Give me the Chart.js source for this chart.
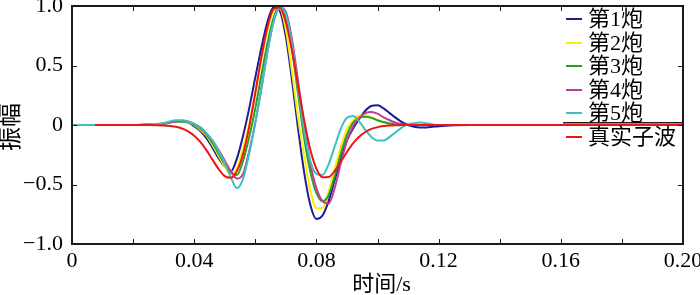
<!DOCTYPE html>
<html>
<head>
<meta charset="utf-8">
<script src="https://cdn.jsdelivr.net/npm/chart.js@4.4.0/dist/chart.umd.min.js"></script>
<style>
html,body{margin:0;padding:0;background:#fff;}
#wrap{width:700px;height:295px;position:relative;}
</style>
</head>
<body>
<div id="wrap"><canvas id="c" width="700" height="295"></canvas></div>
<script>
// time axis samples (s)
const times = [0, 0.0075, 0.015, 0.02, 0.025,
  0.030,0.032,0.034,0.036,0.038,0.040,0.042,0.044,0.046,0.048,
  0.050,0.052,0.054,0.056,0.058,0.060,0.062,0.064,0.066,0.068,
  0.070,0.072,0.074,0.076,0.078,0.080,0.082,0.084,0.086,0.088,
  0.090,0.092,0.094,0.096,0.098,0.100,0.102,0.104,0.106,0.108,
  0.110,0.112,0.114,0.116,0.118,0.120,
  0.125, 0.13, 0.14, 0.16, 0.18, 0.20];

const seriesNames = ["第1炮", "第2炮", "第3炮", "第4炮", "第5炮", "真实子波"];

const shot1 = [0,0,0,0,0.004,
  0.01,0.02,0.03,0.03,0.02,-0.01,-0.05,-0.11,-0.19,-0.28,
  -0.35,-0.39,-0.28,-0.09,0.14,0.40,0.65,0.87,0.99,0.96,
  0.74,0.38,-0.03,-0.40,-0.67,-0.79,-0.76,-0.64,-0.46,-0.29,
  -0.13,-0.03,0.05,0.12,0.16,0.165,0.14,0.10,0.06,0.025,
  0.0,-0.015,-0.02,-0.02,-0.015,-0.01,
  -0.003,0,0,0,0,0];

const shot2 = [0,0,0,0,0.004,
  0.01,0.02,0.03,0.03,0.02,0.0,-0.04,-0.09,-0.17,-0.26,
  -0.35,-0.41,-0.36,-0.19,0.01,0.27,0.55,0.80,0.96,0.98,
  0.80,0.45,0.06,-0.26,-0.55,-0.70,-0.70,-0.56,-0.37,-0.18,
  -0.03,0.04,0.08,0.085,0.065,0.04,0.02,0.008,0.002,0,
  0,0,0,0,0,0,
  0,0,0,0,0,0];

const shot3 = [0,0,0,0,0.004,
  0.01,0.02,0.03,0.03,0.025,0.005,-0.03,-0.08,-0.15,-0.24,
  -0.33,-0.40,-0.42,-0.30,-0.10,0.14,0.42,0.69,0.90,0.995,
  0.91,0.64,0.26,-0.11,-0.39,-0.57,-0.64,-0.59,-0.43,-0.24,
  -0.08,0.02,0.06,0.07,0.06,0.04,0.025,0.012,0.005,0,
  0,0,0,0,0,0,
  0,0,0,0,0,0];

const shot4 = [0,0,0,0,0.005,
  0.012,0.022,0.03,0.035,0.03,0.01,-0.02,-0.07,-0.13,-0.21,
  -0.30,-0.39,-0.45,-0.41,-0.22,0.02,0.31,0.62,0.87,0.99,
  0.95,0.72,0.37,0.0,-0.32,-0.53,-0.64,-0.66,-0.53,-0.32,
  -0.13,-0.01,0.06,0.10,0.11,0.095,0.065,0.04,0.02,0.008,
  0,0,0,0,0,0,
  0,0,0,0,0,0];

const shot5 = [0,0,0,0,0.006,
  0.015,0.03,0.04,0.04,0.03,0.01,-0.02,-0.07,-0.13,-0.22,
  -0.32,-0.44,-0.53,-0.45,-0.24,0.02,0.31,0.62,0.87,0.99,
  0.93,0.68,0.31,-0.05,-0.30,-0.41,-0.42,-0.33,-0.18,-0.03,
  0.06,0.075,0.03,-0.04,-0.10,-0.13,-0.13,-0.10,-0.06,-0.02,
  0.005,0.015,0.02,0.015,0.005,0,
  0,0,0,0,0,0];

const trueWavelet = [null,0,0,0,0,
  -0.004,-0.008,-0.015,-0.029,-0.053,-0.090,-0.142,-0.211,-0.291,-0.371,
  -0.430,-0.444,-0.387,-0.244,-0.016,0.271,0.570,0.823,0.974,0.988,
  0.863,0.626,0.331,0.038,-0.205,-0.366,-0.439,-0.437,-0.385,-0.308,
  -0.227,-0.155,-0.099,-0.059,-0.033,-0.018,-0.009,-0.004,-0.002,-0.001,
  0,0,0,0,0,0,
  0,0,0,0,0,0];

const xTicks = [0, 0.04, 0.08, 0.12, 0.16, 0.20];
const yTicks = [1.0, 0.5, 0, -0.5, -1.0];

const allSeries = [shot1, shot2, shot3, shot4, shot5, trueWavelet];
const colors = ["#1c1c96", "#ffee00", "#22a322", "#c23a9c", "#3fc0c0", "#ee1515"];
const drawOrder = [5, 4, 3, 2, 1, 0];

const FONT = '"Liberation Serif", "Noto Sans CJK SC", serif';

const datasets = allSeries.map((vals, k) => ({
  label: seriesNames[k],
  data: times.map((t, i) => ({x: t, y: vals[i]})),
  borderColor: colors[k],
  backgroundColor: colors[k],
  borderWidth: 2,
  pointRadius: 0,
  fill: false,
  cubicInterpolationMode: 'monotone',
  order: drawOrder[k],
  spanGaps: false
}));

const decor = {
  id: 'decor',
  afterDraw(chart) {
    const ctx = chart.ctx;
    const a = chart.chartArea;
    const L = Math.round(a.left), R = Math.round(a.right);
    const T = Math.round(a.top), B = Math.round(a.bottom);
    const xs = chart.scales.x, ys = chart.scales.y;
    ctx.save();
    // legend box
    const lx = R - 120;
    ctx.fillStyle = '#ffffff';
    ctx.fillRect(lx, T + 2, R - lx - 2, 115);
    ctx.fillStyle = '#202020';
    ctx.fillRect(lx, T + 116, R - lx, 1.5);
    ctx.font = '22px ' + FONT;
    ctx.textBaseline = 'middle';
    ctx.textAlign = 'left';
    chart.data.datasets.forEach((ds, i) => {
      const y = Math.round(T + 13 + i * 23.6);
      ctx.fillStyle = ds.borderColor;
      ctx.fillRect(R - 117, y - 1, 16, 2);
      ctx.fillStyle = '#000000';
      ctx.fillText(ds.label, R - 95, y + 1);
    });
    // frame (2px)
    ctx.fillStyle = '#1a1a1a';
    ctx.fillRect(L - 1, T - 1, R - L + 2, 2);
    ctx.fillRect(L - 1, B - 1, R - L + 2, 2);
    ctx.fillRect(L - 1, T - 1, 2, B - T + 2);
    ctx.fillRect(R - 1, T - 1, 2, B - T + 2);
    // inward ticks
    const tl = 5;
    xs.ticks.forEach(tk => {
      const px = Math.round(xs.getPixelForValue(tk.value));
      ctx.fillRect(px, B - tl, 1, tl);
      ctx.fillRect(px, T, 1, tl);
    });
    ys.ticks.forEach(tk => {
      const py = Math.round(ys.getPixelForValue(tk.value));
      ctx.fillRect(L, py, tl, 1);
      ctx.fillRect(R - tl, py, tl, 1);
    });
    // axis titles
    ctx.fillStyle = '#000000';
    ctx.font = '22px ' + FONT;
    ctx.textAlign = 'center';
    ctx.textBaseline = 'middle';
    ctx.fillText('时间/s', (a.left + a.right) / 2 + 4, 285);
    ctx.save();
    ctx.translate(12, 127);
    ctx.rotate(-Math.PI / 2);
    ctx.font = '24px ' + FONT;
    ctx.fillText('振幅', 0, 0);
    ctx.restore();
    ctx.restore();
  }
};

function fmtX(v) {
  const r = Math.round(v * 100) / 100;
  return r === 0 ? '0' : r.toFixed(2);
}
function fmtY(v) {
  const r = Math.round(v * 10) / 10;
  if (r === 0) return '0';
  const s = Math.abs(r).toFixed(1);
  return (r < 0 ? '\u2212' : '') + s;
}

new Chart(document.getElementById('c'), {
  type: 'line',
  data: { datasets },
  options: {
    responsive: false,
    animation: false,
    events: [],
    layout: { padding: { top: 6, right: 17, left: 0, bottom: 0 } },
    plugins: { legend: { display: false }, tooltip: { enabled: false } },
    scales: {
      x: {
        type: 'linear',
        min: 0, max: 0.2,
        afterFit(s) { s.height = 51; s.paddingLeft = 0; s.paddingRight = 0; },
        afterBuildTicks(s) {
          const t = [];
          for (let i = 0; i <= 10; i++) t.push({ value: Math.round(i * 2) / 100 });
          s.ticks = t;
        },
        grid: { display: false, drawTicks: false },
        border: { display: false },
        ticks: {
          autoSkip: false, maxRotation: 0, padding: 4,
          color: '#000',
          font: { family: FONT, size: 22 },
          callback(v) {
            const r = Math.round(v * 100) / 100;
            return xTicks.some(x => Math.abs(x - r) < 1e-6) ? fmtX(r) : '';
          }
        }
      },
      y: {
        min: -1, max: 1,
        afterFit(s) { s.width = 72; s.paddingTop = 0; s.paddingBottom = 0; },
        afterBuildTicks(s) { s.ticks = yTicks.map(v => ({ value: v })); },
        grid: { display: false, drawTicks: false },
        border: { display: false },
        ticks: {
          padding: 9,
          color: '#000',
          font: { family: FONT, size: 22 },
          callback(v) { return fmtY(v); }
        }
      }
    }
  },
  plugins: [decor]
});
</script>
</body>
</html>
